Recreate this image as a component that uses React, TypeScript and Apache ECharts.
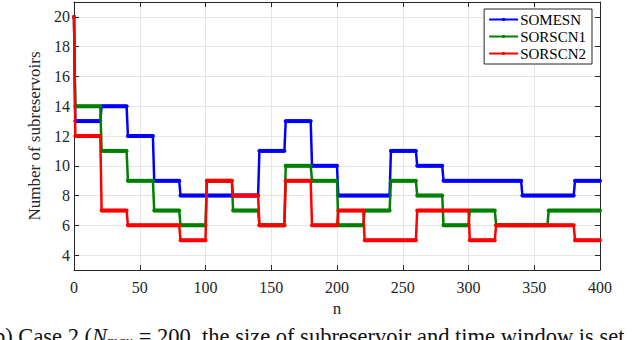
import React, { useEffect, useRef } from "react";
import * as echarts from "echarts";

const seriesNames = ["SOMESN", "SORSCN1", "SORSCN2"];
const seriesColors = ["#0000ff", "#008000", "#ff0000"];
const startValue = [20, 20, 20];
const windowLength = 20;
const somesnLevels = [13, 14, 12, 9, 8, 8, 8, 11, 13, 10, 8, 8, 11, 10, 9, 9, 9, 8, 8, 9];
const sorscn1Levels = [14, 11, 9, 7, 6, 9, 7, 6, 10, 9, 6, 7, 9, 8, 6, 7, 6, 6, 7, 7];
const sorscn2Levels = [12, 7, 6, 6, 5, 9, 8, 6, 9, 6, 7, 5, 5, 7, 7, 5, 6, 6, 6, 5];
const xTicks = [0, 50, 100, 150, 200, 250, 300, 350, 400];
const yTicks = [4, 6, 8, 10, 12, 14, 16, 18, 20];

const FONT = "'Liberation Serif', 'Times New Roman', serif";
const AXIS_COLOR = "#262626";

function expand(start: number, levels: number[]): number[][] {
  const out: number[][] = [[0, start]];
  levels.forEach((v, k) => {
    for (let i = 1; i <= windowLength; i++) out.push([k * windowLength + i, v]);
  });
  return out;
}

export default function App() {
  const ref = useRef<HTMLDivElement>(null);
  useEffect(() => {
    if (!ref.current) return;
    const chart = echarts.init(ref.current, undefined, { renderer: "svg" });
    const allLevels = [somesnLevels, sorscn1Levels, sorscn2Levels];
    const baseX = {
      type: "value",
      min: xTicks[0],
      max: xTicks[xTicks.length - 1],
      interval: 50,
      axisLine: { show: true, onZero: false, lineStyle: { color: AXIS_COLOR, width: 1 } },
      axisTick: { show: true, inside: true, length: 5, lineStyle: { color: AXIS_COLOR } },
    };
    const baseY = {
      type: "value",
      min: 3,
      max: 21,
      axisLine: { show: true, onZero: false, lineStyle: { color: AXIS_COLOR, width: 1 } },
      axisTick: { show: true, inside: true, length: 5, customValues: yTicks, lineStyle: { color: AXIS_COLOR } },
    };
    chart.setOption({
      animation: false,
      textStyle: { fontFamily: FONT },
      grid: { left: 74, right: 40, top: 2, bottom: 70, containLabel: false },
      xAxis: [
        {
          ...baseX,
          position: "bottom",
          name: "n",
          nameLocation: "middle",
          nameGap: 27,
          nameTextStyle: { fontFamily: FONT, fontSize: 17, color: AXIS_COLOR },
          axisLabel: { fontFamily: FONT, fontSize: 16, color: AXIS_COLOR, margin: 9 },
          splitLine: { show: true, lineStyle: { color: "#e6e6e6", width: 1 } },
        },
        {
          ...baseX,
          position: "top",
          axisLabel: { show: false },
          splitLine: { show: false },
        },
      ],
      yAxis: [
        {
          ...baseY,
          position: "left",
          name: "Number of subreservoirs",
          nameLocation: "middle",
          nameGap: 20,
          nameTextStyle: { fontFamily: FONT, fontSize: 17, color: AXIS_COLOR },
          axisLabel: { fontFamily: FONT, fontSize: 16, color: AXIS_COLOR, margin: 4, customValues: yTicks },
          splitLine: { show: true, lineStyle: { color: "#e6e6e6", width: 1 } },
        },
        {
          ...baseY,
          position: "right",
          axisLabel: { show: false },
          splitLine: { show: false },
        },
      ],
      legend: {
        right: 48,
        top: 9,
        orient: "vertical",
        itemWidth: 29,
        itemHeight: 4,
        itemGap: 2,
        padding: [3, 6, 3, 4],
        borderColor: AXIS_COLOR,
        borderWidth: 1,
        backgroundColor: "#ffffff",
        lineStyle: { width: 2 },
        textStyle: { fontFamily: FONT, fontSize: 15, lineHeight: 15, color: "#000", padding: [0, 0, 0, -3] },
        data: seriesNames,
      },
      series: seriesNames.map((name, i) => ({
        name,
        type: "line",
        xAxisIndex: 0,
        yAxisIndex: 0,
        data: expand(startValue[i], allLevels[i]),
        color: seriesColors[i],
        lineStyle: { color: seriesColors[i], width: 2.5 },
        itemStyle: { color: seriesColors[i] },
        symbol: "circle",
        symbolSize: 4,
        showSymbol: true,
        showAllSymbol: true,
        silent: true,
        z: 2 + i,
      })),
      graphic: [
        {
          type: "text",
          left: -6,
          top: 325,
          style: {
            text: "b) Case 2 ({i|N}{s|max} = 200, the size of subreservoir and time window is set",
            fontFamily: FONT,
            fontSize: 22.5,
            fill: "#111",
            rich: {
              i: { fontFamily: FONT, fontSize: 22.5, fontStyle: "italic", fill: "#111" },
              s: { fontFamily: FONT, fontSize: 15, fontStyle: "italic", fill: "#111", padding: [8, 1, 0, 0] },
            },
          },
        },
      ],
    });
    return () => chart.dispose();
  }, []);
  return <div ref={ref} style={{ width: 640, height: 340, position: "absolute", left: 0, top: 0 }} />;
}
